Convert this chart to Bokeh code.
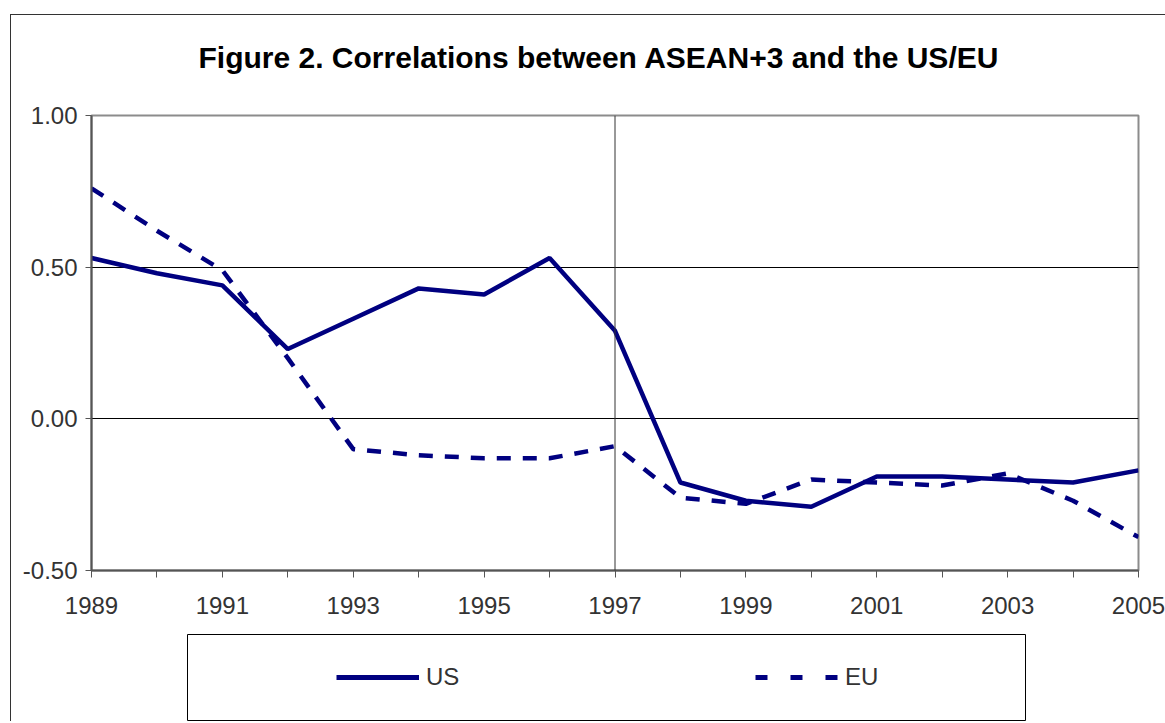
from bokeh.plotting import figure
from bokeh.models import (FixedTicker, PrintfTickFormatter, Span, Legend,
                          LegendItem, Range1d, Title)
from bokeh.layouts import column
from bokeh.embed import file_html
from bokeh.resources import INLINE

# ---------------- data ----------------
title_text = "Figure 2. Correlations between ASEAN+3 and the US/EU"
years = list(range(1989, 2006))
us = [0.53, 0.48, 0.44, 0.23, 0.33, 0.43, 0.41, 0.53, 0.29,
      -0.21, -0.27, -0.29, -0.19, -0.19, -0.20, -0.21, -0.17]
eu = [0.76, 0.62, 0.49, 0.20, -0.10, -0.12, -0.13, -0.13, -0.09,
      -0.26, -0.28, -0.20, -0.21, -0.22, -0.18, -0.27, -0.39]
x_label_years = [1989, 1991, 1993, 1995, 1997, 1999, 2001, 2003, 2005]
x_minor_years = [1990, 1992, 1994, 1996, 1998, 2000, 2002, 2004]
y_ticks = [-0.50, 0.00, 0.50, 1.00]
grid_levels = [0.00, 0.50]
crisis_year = 1997
series_names = ["US", "EU"]

NAVY = "#000080"
FONT = "Liberation Sans"
BORDER_L, BORDER_R = 80, 27

# ---------------- main chart ----------------
p = figure(width=1154, height=618,
           x_range=Range1d(years[0], years[-1]),
           y_range=Range1d(y_ticks[0], y_ticks[-1]),
           output_backend="svg", toolbar_location=None,
           min_border_left=BORDER_L, min_border_right=BORDER_R,
           min_border_top=100, min_border_bottom=63)

p.background_fill_color = "white"
p.border_fill_color = "white"
p.outline_line_color = "#8c8c8c"
p.outline_line_width = 2

# spacer between the frame and the title (added first -> closest to frame)
p.add_layout(Title(text=" ", text_font_size="1px", standoff=39), "above")
p.add_layout(Title(text=title_text, text_font=FONT, text_font_style="bold",
                   text_font_size="30px", text_color="#000000",
                   align="left", offset=107, standoff=0), "above")

# x axis
xa = p.xaxis[0]
xa.ticker = FixedTicker(ticks=x_label_years, minor_ticks=x_minor_years)
xa.major_tick_out = 7
xa.major_tick_in = 0
xa.minor_tick_out = 7
xa.minor_tick_in = 0
xa.axis_line_color = "#555555"
xa.axis_line_width = 2
xa.major_tick_line_color = "#555555"
xa.minor_tick_line_color = "#555555"
xa.major_label_text_font = FONT
xa.major_label_text_font_size = "24px"
xa.major_label_text_color = "#333333"
xa.major_label_standoff = 19

# y axis
ya = p.yaxis[0]
ya.ticker = FixedTicker(ticks=y_ticks)
ya.formatter = PrintfTickFormatter(format="%.2f")
ya.major_tick_out = 6
ya.major_tick_in = 0
ya.minor_tick_out = 0
ya.minor_tick_in = 0
ya.axis_line_color = "#555555"
ya.axis_line_width = 2
ya.major_tick_line_color = "#555555"
ya.major_label_text_font = FONT
ya.major_label_text_font_size = "24px"
ya.major_label_text_color = "#333333"
ya.major_label_standoff = 8

p.xgrid.visible = False
p.ygrid.ticker = FixedTicker(ticks=grid_levels)
p.ygrid.grid_line_color = "#000000"
p.ygrid.grid_line_width = 1

p.add_layout(Span(location=crisis_year, dimension="height",
                  line_color="#333333", line_width=1))

p.line(years, us, line_color=NAVY, line_width=4.5)
p.line(years, eu, line_color=NAVY, line_width=4.5, line_dash="14 12")

# ---------------- legend box ----------------
# (series drawn off-frame here; only their legend samples show)
p2 = figure(width=BORDER_L + 838 + BORDER_R, height=88,
            x_range=Range1d(0, 1), y_range=Range1d(0, 1),
            output_backend="svg", toolbar_location=None,
            x_axis_location=None, y_axis_location=None,
            min_border_left=BORDER_L, min_border_right=BORDER_R,
            min_border_top=1, min_border_bottom=1)
p2.grid.visible = False
p2.outline_line_color = "#000000"
p2.outline_line_width = 1
p2.border_fill_color = "white"
p2.margin = (0, 0, 0, 96)

r_us = p2.line(years, us, line_color=NAVY, line_width=5)
r_eu = p2.line(years, eu, line_color=NAVY, line_width=5, line_dash="12 23")

legend = Legend(items=[LegendItem(label=series_names[0], renderers=[r_us]),
                       LegendItem(label=series_names[1], renderers=[r_eu])],
                orientation="horizontal", location=(149, 29),
                padding=0, margin=0, spacing=289,
                glyph_width=83, glyph_height=28,
                label_height=28, label_width=40, label_standoff=7,
                border_line_alpha=0, background_fill_alpha=0,
                label_text_font=FONT, label_text_font_size="24px",
                label_text_color="#333333")
p2.add_layout(legend)

col = column(p, p2)
col.margin = (14, 0, 0, 10)
col.styles = {"border-left": "1px solid #333333", "border-top": "1px solid #333333"}

open("out.html", "w").write(file_html(col, INLINE))
